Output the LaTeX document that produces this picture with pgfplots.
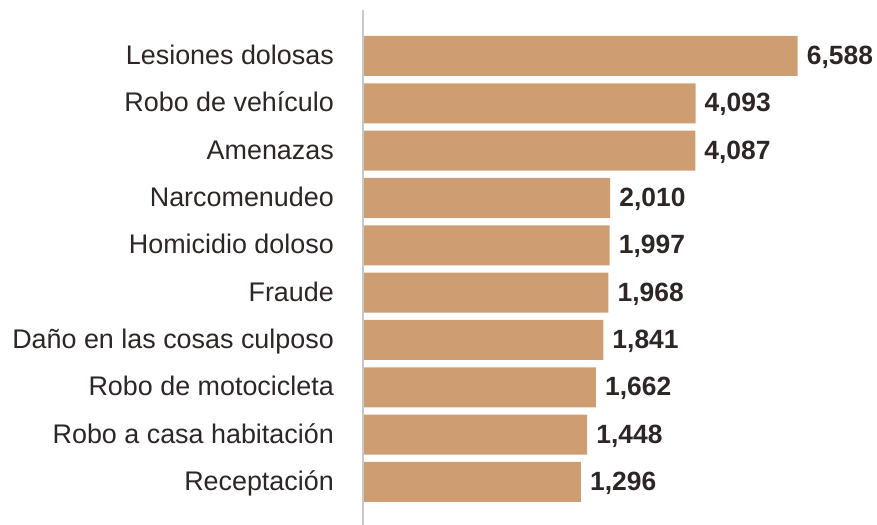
\documentclass[border=0pt]{standalone}
\usepackage{fontspec}
\setmainfont{Liberation Sans}
\usepackage{pgfplots}
\usepackage{pgfplotstable}
\pgfplotsset{compat=1.18}
\definecolor{barc}{HTML}{CE9E72}
\definecolor{txt}{HTML}{2E2624}
\definecolor{axc}{HTML}{C8C8C8}
\pgfplotstableread{
idx v
0 6588
1 4093
2 4087
3 2010
4 1997
5 1968
6 1841
7 1662
8 1448
9 1296
}\datatable
\begin{document}
\begin{tikzpicture}[x=1bp,y=1bp]
\path[use as bounding box] (-363,0) rectangle (514,525);
\begin{axis}[
 at={(0,0)}, anchor=south west,
 scale only axis, width=514bp, height=515bp,
 xmin=0, xmax=12552, ymin=-0.972, ymax=9.909, y dir=reverse,
 axis x line=none, axis y line*=left,
 y axis line style={draw=axc, line width=1.6bp},
 axis on top, clip=false,
 ytick={0,...,9},
 yticklabels={Lesiones dolosas, Robo de vehículo, Amenazas, Narcomenudeo, Homicidio doloso, Fraude, Daño en las cosas culposo, Robo de motocicleta, Robo a casa habitación, Receptación},
 major tick length=0pt,
 yticklabel style={anchor=base east, inner sep=0pt, xshift=-29bp, yshift=-8.5bp, font=\fontsize{27}{31}\selectfont, text=txt},
]
\addplot[xbar, fill=barc, draw=none, bar width=40bp, point meta=explicit,
 nodes near coords={\pgfmathprintnumber[fixed,precision=0,1000 sep={,},assume math mode=true]{\pgfplotspointmeta}},
 nodes near coords style={anchor=base west, inner sep=0pt, xshift=9bp, yshift=-8.5bp, font=\bfseries\fontsize{26.5}{30}\selectfont, text=txt}]
 table[x expr=\thisrow{v}+4027, y=idx, meta=v] {\datatable};
\end{axis}
\end{tikzpicture}
\end{document}
